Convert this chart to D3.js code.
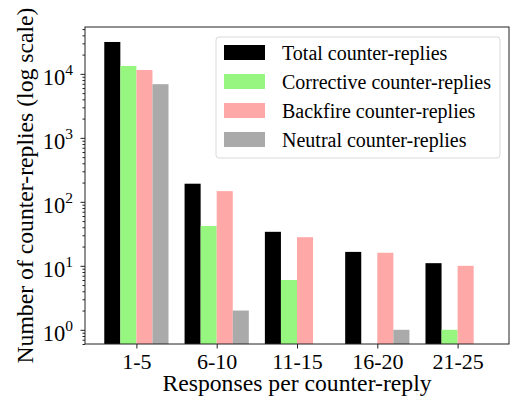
<!DOCTYPE html>
<html>
<head>
<meta charset="utf-8">
<script src="https://cdn.jsdelivr.net/npm/d3@7"></script>
<style>
  body { margin: 0; background: #fff; }
</style>
</head>
<body>
<script>
var width = 511;
var height = 402;
var FONT = 'Liberation Serif';

// data (null = no bar, zero on a log axis)
var categories = ['1-5', '6-10', '11-15', '16-20', '21-25'];
var seriesNames = ['Total counter-replies', 'Corrective counter-replies', 'Backfire counter-replies', 'Neutral counter-replies'];
var seriesColors = ['#000000', '#96f67f', '#ffa8a8', '#aaaaaa'];
var total = [31500, 192, 34, 16.5, 11];
var corrective = [13300, 42, 6, null, 1];
var backfire = [11500, 147, 28, 16, 10];
var neutral = [6900, 2, null, 1, null];
var series = [total, corrective, backfire, neutral];
var majorTicks = [1, 10, 100, 1000, 10000];

var margin = {left: 85, right: 2, top: 27, bottom: 58};

var svg = d3.select('body').append('svg')
    .attr('width', width)
    .attr('height', height)

var x = d3.scaleLinear()
    .domain([-0.64, 4.64])
    .range([margin.left, width - margin.right])
var y = d3.scaleLog()
    .domain([0.6, 54000])
    .range([height - margin.bottom, margin.top])

var barW = 0.2

// bars
var g = svg.append('g')
series.forEach((vals, s) => {
    g.selectAll(null)
        .data(vals.map((v, i) => ({v: v, i: i})).filter(d => d.v != null))
        .enter()
        .append('rect')
            .attr('x', d => x(d.i + (s - 2) * barW))
            .attr('width', x(barW) - x(0))
            .attr('y', d => y(d.v))
            .attr('height', d => y.range()[0] - y(d.v))
            .attr('fill', seriesColors[s])
})

// minor ticks
var minor = []
for (var e = -1; e <= 4; e++) {
    for (var k = 2; k <= 9; k++) {
        var v = k * Math.pow(10, e)
        if (v >= 0.6 && v <= 54000) minor.push(v)
    }
}
svg.append('g')
    .attr('transform', 'translate(' + margin.left + ',0)')
    .call(d3.axisLeft(y).tickValues(minor).tickSize(2.5).tickFormat(''))
    .call(a => a.select('.domain').remove())
    .call(a => a.selectAll('line').attr('stroke', '#222'))

var yAxis = svg.append('g')
    .attr('transform', 'translate(' + margin.left + ',0)')
    .call(d3.axisLeft(y).tickValues(majorTicks).tickSize(4.5).tickFormat(''))
yAxis.select('.domain').remove()
yAxis.selectAll('line').attr('stroke', '#222')
yAxis.selectAll('.tick').each(function(d) {
    var t = d3.select(this).append('text')
        .attr('x', -12)
        .attr('y', 11)
        .attr('text-anchor', 'end')
        .attr('fill', '#000')
        .attr('font-family', FONT)
        .attr('font-size', 22.5)
    t.append('tspan').text('10')
    t.append('tspan')
        .attr('font-size', 15.5)
        .attr('dy', -10)
        .text(Math.round(Math.log10(d)))
})

var xAxis = svg.append('g')
    .attr('transform', 'translate(0,' + (height - margin.bottom) + ')')
    .call(d3.axisBottom(x).tickValues(d3.range(categories.length)).tickSize(4.5).tickFormat(i => categories[i]))
xAxis.select('.domain').remove()
xAxis.selectAll('line').attr('stroke', '#222')
xAxis.selectAll('text')
    .attr('font-family', FONT)
    .attr('font-size', 22)
    .attr('fill', '#000')
    .attr('y', 25)
    .attr('dy', null)

// frame
svg.append('rect')
    .attr('x', margin.left)
    .attr('y', margin.top)
    .attr('width', width - margin.left - margin.right)
    .attr('height', height - margin.top - margin.bottom)
    .attr('fill', 'none')
    .attr('stroke', '#222')
    .attr('stroke-width', 1)

// axis titles
svg.append('text')
    .attr('x', (margin.left + width - margin.right) / 2)
    .attr('y', 391)
    .attr('text-anchor', 'middle')
    .attr('font-family', FONT)
    .attr('font-size', 23.7)
    .text('Responses per counter-reply')

svg.append('text')
    .attr('transform', 'translate(33,' + ((margin.top + height - margin.bottom) / 2) + ') rotate(-90)')
    .attr('text-anchor', 'middle')
    .attr('font-family', FONT)
    .attr('font-size', 23.7)
    .text('Number of counter-replies (log scale)')

// legend
var legend = svg.append('g').attr('transform', 'translate(216,37)')
legend.append('rect')
    .attr('width', 284)
    .attr('height', 121)
    .attr('rx', 3)
    .attr('fill', '#fff')
    .attr('fill-opacity', 0.8)
    .attr('stroke', '#d9d9d9')
var rows = legend.selectAll('g.row')
    .data(seriesNames)
    .enter()
    .append('g')
        .attr('class', 'row')
        .attr('transform', (d, i) => 'translate(0,' + (15.5 + i * 29) + ')')
rows.append('rect')
    .attr('x', 8)
    .attr('y', -7.5)
    .attr('width', 41)
    .attr('height', 15)
    .attr('fill', (d, i) => seriesColors[i])
rows.append('text')
    .attr('x', 66)
    .attr('dy', '0.35em')
    .attr('font-family', FONT)
    .attr('font-size', 20)
    .text(d => d)
</script>
</body>
</html>
